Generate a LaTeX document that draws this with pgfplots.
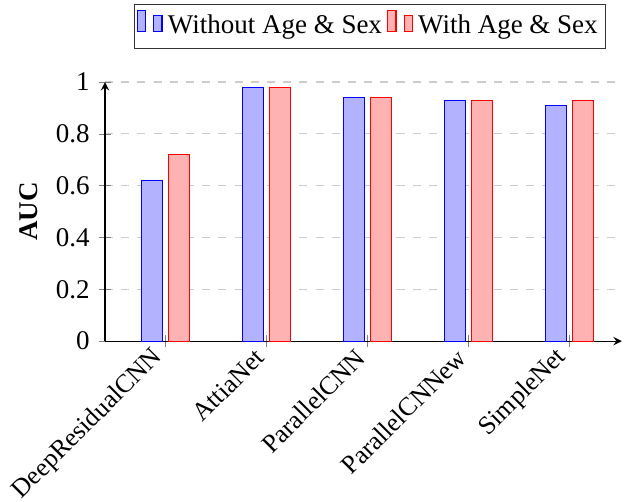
\documentclass[border=0pt]{standalone}
\usepackage{pgfplots}
\pgfplotsset{compat=1.18}
\usepackage{fontspec}
\setmainfont{Liberation Serif}
\begin{document}
\begin{tikzpicture}
\begin{axis}[
  scale only axis,
  width=191.5pt, height=96pt,
  ybar, bar width=8pt,
  axis lines=left,
  xmin=-0.6, xmax=4.52,
  ymin=0, ymax=1,
  xtick=data,
  xticklabels={DeepResidualCNN,AttiaNet,ParallelCNN,ParallelCNNew,SimpleNet},
  x tick label style={rotate=45, anchor=east, font=\fontsize{9.6}{11}\selectfont},
  ytick={0,0.2,0.4,0.6,0.8,1},
  yticklabels={0,0.2,0.4,0.6,0.8,1},
  ymajorgrids, grid style={dashed, gray!40},
  ylabel={\textbf{AUC}},
  legend columns=-1,
  legend style={at={(0.5,1.127)}, anchor=south, xshift=2.5pt, inner xsep=1pt, draw=black!80, /tikz/every even column/.append style={column sep=0pt}},
]
\addplot[draw=blue, fill=blue!30] coordinates {(0,0.62) (1,0.98) (2,0.94) (3,0.93) (4,0.91)};
\addplot[draw=red, fill=red!30] coordinates {(0,0.72) (1,0.98) (2,0.94) (3,0.93) (4,0.93)};
\legend{Without Age \& Sex, With Age \& Sex}
\end{axis}
\pgfresetboundingbox
\path[use as bounding box] ([shift={(-38.9pt,-59.6pt)}]current axis.south west) rectangle ([shift={(0.8pt,30.4pt)}]current axis.north east);
\end{tikzpicture}
\end{document}
